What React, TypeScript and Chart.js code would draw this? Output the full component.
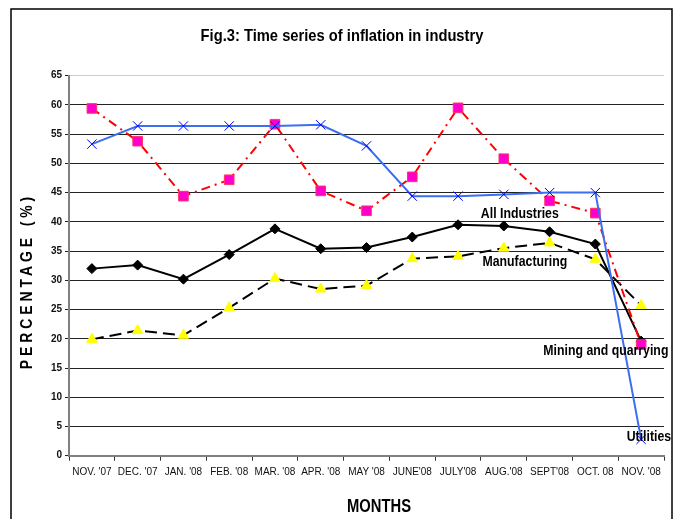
import { useEffect, useRef } from "react";
import { Chart, registerables } from "chart.js";

Chart.register(...registerables);

const FAMILY = "'Liberation Sans', Arial, sans-serif";

const months = [
  "NOV. '07", "DEC. '07", "JAN. '08", "FEB. '08", "MAR. '08", "APR. '08", "MAY '08",
  "JUNE'08", "JULY'08", "AUG.'08", "SEPT'08", "OCT. 08", "NOV. '08",
];

const utilities = [53.3, 56.4, 56.4, 56.4, 56.4, 56.6, 53.0, 44.4, 44.4, 44.7, 45.0, 45.0, 2.8];
const mining = [59.4, 53.8, 44.4, 47.2, 56.7, 45.3, 41.9, 47.7, 59.5, 50.8, 43.6, 41.5, 19.0];
const allIndustries = [32.0, 32.6, 30.2, 34.4, 38.8, 35.4, 35.6, 37.4, 39.5, 39.3, 38.3, 36.2, 19.6];
const manufacturing = [19.9, 21.4, 20.6, 25.3, 30.3, 28.5, 29.1, 33.7, 34.1, 35.5, 36.4, 33.6, 25.7];

const yTicks = { min: 0, max: 65, step: 5 };

// in-chart series labels: text, category position, value position
const seriesLabelText = ["All Industries", "Manufacturing", "Mining and quarrying", "Utilities"];
const seriesLabelX = [9.35, 9.46, 11.23, 12.17];
const seriesLabelY = [41.3, 33.1, 17.9, 3.2];

const chartTitle = "Fig.3: Time series of inflation in industry";
const yTitle = "PERCENTAGE (%)";
const xTitle = "MONTHS";

function narrowText(ctx: any, text: string, x: number, y: number, size: number, sx: number, rot = 0, spacing = 0) {
  ctx.save();
  ctx.translate(x, y);
  if (rot) ctx.rotate(rot);
  ctx.scale(sx, 1);
  ctx.font = `bold ${size}px ${FAMILY}`;
  ctx.textAlign = "center";
  ctx.textBaseline = "middle";
  ctx.fillStyle = "#000";
  if (spacing) ctx.letterSpacing = `${spacing}px`;
  ctx.fillText(text, spacing / 2, 0);
  ctx.restore();
}

const decor = {
  id: "decor",
  beforeDraw(chart: any) {
    const ctx = chart.ctx;
    ctx.save();
    ctx.fillStyle = "#fff";
    ctx.fillRect(0, 0, chart.width, chart.height);
    ctx.strokeStyle = "#000";
    ctx.lineWidth = 1.5;
    ctx.strokeRect(11, 9, 661, 600);
    ctx.restore();
  },
  afterDatasetsDraw(chart: any) {
    const ctx = chart.ctx;
    const xs = chart.scales.x;
    const ys = chart.scales.y;
    seriesLabelText.forEach((t, i) => {
      narrowText(ctx, t, xs.getPixelForValue(seriesLabelX[i]), ys.getPixelForValue(seriesLabelY[i]), 15, 0.82);
    });
  },
  afterDraw(chart: any) {
    const ctx = chart.ctx;
    narrowText(ctx, chartTitle, 342, 36, 17, 0.866);
    narrowText(ctx, xTitle, 379, 507, 18, 0.82);
    narrowText(ctx, yTitle, 27, 283, 17, 0.82, -Math.PI / 2, 4.8);
  },
};

export default function App() {
  const ref = useRef<HTMLCanvasElement>(null);
  useEffect(() => {
    document.body.style.margin = "0";
    const canvas = ref.current!;
    const chart = new Chart(canvas, {
      type: "line",
      data: {
        labels: months,
        datasets: [
          {
            label: "Utilities",
            data: utilities,
            borderColor: "#3b6ff0",
            borderWidth: 2,
            pointStyle: "crossRot",
            pointRadius: 6.6,
            pointBorderColor: "#0000ff",
            pointBackgroundColor: "#0000ff",
            pointBorderWidth: 1,
            tension: 0,
          },
          {
            label: "Mining and quarrying",
            data: mining,
            borderColor: "#ff0000",
            borderWidth: 2,
            borderDash: [9, 5, 2, 5],
            pointStyle: "rect",
            pointRadius: 6.8,
            pointBackgroundColor: "#ff00cc",
            pointBorderColor: "#ff3366",
            pointBorderWidth: 1,
            tension: 0,
          },
          {
            label: "All Industries",
            data: allIndustries,
            borderColor: "#000",
            borderWidth: 2,
            pointStyle: "rectRot",
            pointRadius: 5,
            pointBackgroundColor: "#000",
            pointBorderColor: "#000",
            pointBorderWidth: 1,
            tension: 0,
          },
          {
            label: "Manufacturing",
            data: manufacturing,
            borderColor: "#000",
            borderWidth: 2,
            borderDash: [12, 6],
            pointStyle: "triangle",
            pointRadius: 6,
            pointBackgroundColor: "#ffff00",
            pointBorderColor: "#ffff00",
            pointBorderWidth: 1,
            tension: 0,
          },
        ],
      },
      options: {
        animation: false,
        responsive: false,
        layout: { padding: { top: 75.7, right: 21, left: 0, bottom: 0 } },
        plugins: {
          legend: { display: false },
          title: { display: false },
          tooltip: { enabled: false },
        },
        scales: {
          x: {
            offset: true,
            grid: {
              offset: true,
              drawOnChartArea: false,
              drawTicks: true,
              tickLength: 5,
              color: "#808080",
              tickColor: "#333",
            },
            border: { color: "#808080", width: 2 },
            ticks: {
              color: "#111",
              font: { family: FAMILY, size: 10 },
              maxRotation: 0,
              autoSkip: false,
              padding: 6,
            },
            afterFit(scale: any) {
              scale.height = 519 - 455.7;
            },
          },
          y: {
            min: yTicks.min,
            max: yTicks.max,
            grid: {
              color: (c: any) =>
                c.tick && c.tick.value === 65 ? "#cccccc" : c.tick && c.tick.value === 0 ? "#808080" : "#222",
              lineWidth: 1,
              tickLength: 4,
              tickColor: "#222",
            },
            border: { color: "#808080", width: 2 },
            ticks: {
              stepSize: yTicks.step,
              color: "#111",
              font: { family: FAMILY, size: 10, weight: "bold" },
              padding: 3,
            },
            afterFit(scale: any) {
              scale.width = 69;
            },
          },
        },
      },
      plugins: [decor],
    } as any);
    return () => chart.destroy();
  }, []);
  return (
    <div style={{ width: 685, height: 519 }}>
      <canvas ref={ref} width={685} height={519} style={{ display: "block" }} />
    </div>
  );
}
